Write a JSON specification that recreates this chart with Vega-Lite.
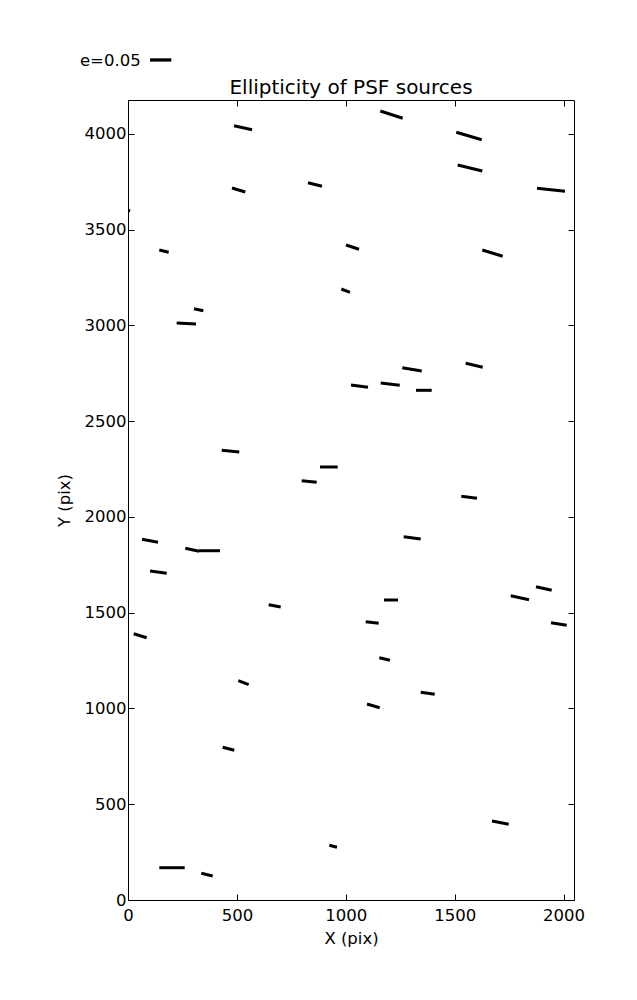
{
  "$schema": "https://vega.github.io/schema/vega-lite/v6.json",
  "width": 446,
  "height": 800,
  "autosize": {"type": "none"},
  "padding": {"left": 128, "top": 100, "right": 63, "bottom": 100},
  "background": "white",
  "config": {
    "view": {"stroke": "black", "strokeWidth": 1},
    "axis": {"grid": false, "domain": false, "tickColor": "black", "tickSize": -6, "tickWidth": 1, "labelFont": "DejaVu Sans", "labelFontSize": 16.5, "labelColor": "black", "titleFont": "DejaVu Sans", "titleFontSize": 16.5, "titleFontWeight": "normal", "titleColor": "black", "labelFlush": false, "labelOverlap": false, "format": "d"}
  },
  "datasets": {
    "whiskers": [
      {"x1": 486.8, "y1": 4041.8, "x2": 569.4, "y2": 4021.0},
      {"x1": 1158.6, "y1": 4118.6, "x2": 1261.4, "y2": 4080.5},
      {"x1": 1507.5, "y1": 4007.4, "x2": 1624.2, "y2": 3968.8},
      {"x1": 1514.0, "y1": 3836.7, "x2": 1627.0, "y2": 3805.4},
      {"x1": 477.6, "y1": 3716.6, "x2": 538.6, "y2": 3695.8},
      {"x1": 826.6, "y1": 3744.3, "x2": 890.8, "y2": 3725.5},
      {"x1": 1878.1, "y1": 3715.1, "x2": 2006.7, "y2": 3699.4},
      {"x1": -20.0, "y1": 3603.0, "x2": 10.0, "y2": 3598.0},
      {"x1": 143.7, "y1": 3393.0, "x2": 186.9, "y2": 3381.0},
      {"x1": 1001.1, "y1": 3419.1, "x2": 1060.8, "y2": 3396.7},
      {"x1": 1627.0, "y1": 3393.0, "x2": 1720.6, "y2": 3360.1},
      {"x1": 979.5, "y1": 3189.4, "x2": 1019.4, "y2": 3172.2},
      {"x1": 303.1, "y1": 3086.6, "x2": 345.8, "y2": 3076.1},
      {"x1": 223.6, "y1": 3011.9, "x2": 312.3, "y2": 3006.7},
      {"x1": 1259.6, "y1": 2778.6, "x2": 1348.7, "y2": 2761.4},
      {"x1": 1550.7, "y1": 2801.6, "x2": 1628.8, "y2": 2780.7},
      {"x1": 1024.0, "y1": 2688.3, "x2": 1102.1, "y2": 2676.3},
      {"x1": 1160.4, "y1": 2698.7, "x2": 1247.6, "y2": 2686.7},
      {"x1": 1322.5, "y1": 2660.6, "x2": 1394.6, "y2": 2660.6},
      {"x1": 430.3, "y1": 2347.4, "x2": 511.1, "y2": 2338.6},
      {"x1": 797.6, "y1": 2188.7, "x2": 866.5, "y2": 2180.4},
      {"x1": 881.7, "y1": 2260.3, "x2": 962.9, "y2": 2260.3},
      {"x1": 1530.5, "y1": 2107.3, "x2": 1602.6, "y2": 2096.9},
      {"x1": 1266.0, "y1": 1896.4, "x2": 1344.1, "y2": 1884.4},
      {"x1": 64.3, "y1": 1882.9, "x2": 137.8, "y2": 1867.2},
      {"x1": 263.1, "y1": 1835.9, "x2": 326.0, "y2": 1820.2},
      {"x1": 326.0, "y1": 1823.3, "x2": 422.5, "y2": 1823.3},
      {"x1": 101.0, "y1": 1717.4, "x2": 177.7, "y2": 1705.4},
      {"x1": 646.1, "y1": 1541.5, "x2": 701.2, "y2": 1529.5},
      {"x1": 1175.6, "y1": 1566.0, "x2": 1239.8, "y2": 1566.0},
      {"x1": 1757.4, "y1": 1588.4, "x2": 1841.4, "y2": 1567.6},
      {"x1": 1873.5, "y1": 1635.4, "x2": 1945.6, "y2": 1616.6},
      {"x1": 26.2, "y1": 1390.1, "x2": 85.9, "y2": 1369.2},
      {"x1": 1091.5, "y1": 1452.7, "x2": 1151.2, "y2": 1444.4},
      {"x1": 1942.4, "y1": 1447.5, "x2": 2014.5, "y2": 1433.9},
      {"x1": 1154.0, "y1": 1264.8, "x2": 1203.1, "y2": 1251.2},
      {"x1": 506.5, "y1": 1144.7, "x2": 554.3, "y2": 1123.9},
      {"x1": 1344.1, "y1": 1084.2, "x2": 1408.4, "y2": 1073.8},
      {"x1": 1097.5, "y1": 1023.1, "x2": 1155.8, "y2": 1003.8},
      {"x1": 434.9, "y1": 797.1, "x2": 488.1, "y2": 781.4},
      {"x1": 1671.5, "y1": 412.4, "x2": 1748.2, "y2": 395.2},
      {"x1": 924.4, "y1": 285.5, "x2": 959.7, "y2": 275.1},
      {"x1": 143.7, "y1": 168.6, "x2": 260.4, "y2": 168.6},
      {"x1": 336.6, "y1": 139.4, "x2": 388.9, "y2": 125.3}
    ],
    "key": [
      {"kx1": 101.0, "kx2": 198.8, "ky": 4385, "tx": 58, "ty": 4356, "label": "e=0.05"}
    ],
    "heading": [
      {"hx": 1024, "hy": 4208, "text": "Ellipticity of PSF sources"}
    ]
  },
  "layer": [
    {
      "data": {"name": "whiskers"},
      "mark": {"type": "rule", "color": "black", "strokeWidth": 3, "strokeCap": "butt", "clip": true},
      "encoding": {
        "x": {"field": "x1", "type": "quantitative", "scale": {"domain": [0, 2048], "nice": false, "zero": false}, "axis": {"orient": "bottom", "title": "X (pix)", "values": [0, 500, 1000, 1500, 2000], "labelPadding": 13, "titlePadding": 7}},
        "x2": {"field": "x2"},
        "y": {"field": "y1", "type": "quantitative", "scale": {"domain": [0, 4176], "nice": false, "zero": false}, "axis": {"orient": "left", "title": "Y (pix)", "values": [0, 500, 1000, 1500, 2000, 2500, 3000, 3500, 4000], "labelPadding": 8, "titlePadding": 12}},
        "y2": {"field": "y2"}
      }
    },
    {
      "data": {"name": "key"},
      "mark": {"type": "rule", "color": "black", "strokeWidth": 3.3, "strokeCap": "butt"},
      "encoding": {
        "x": {"field": "kx1", "type": "quantitative", "axis": {"orient": "top", "title": null, "labels": false, "values": [0, 500, 1000, 1500, 2000]}},
        "x2": {"field": "kx2"},
        "y": {"field": "ky", "type": "quantitative", "axis": {"orient": "right", "title": null, "labels": false, "values": [0, 500, 1000, 1500, 2000, 2500, 3000, 3500, 4000]}}
      }
    },
    {
      "data": {"name": "key"},
      "mark": {"type": "text", "color": "black", "font": "DejaVu Sans", "fontSize": 16.5, "align": "right", "baseline": "alphabetic"},
      "encoding": {
        "x": {"field": "tx", "type": "quantitative", "axis": null},
        "y": {"field": "ty", "type": "quantitative", "axis": null},
        "text": {"field": "label"}
      }
    },
    {
      "data": {"name": "heading"},
      "mark": {"type": "text", "color": "black", "font": "DejaVu Sans", "fontSize": 20, "align": "center", "baseline": "alphabetic"},
      "encoding": {
        "x": {"field": "hx", "type": "quantitative", "axis": null},
        "y": {"field": "hy", "type": "quantitative", "axis": null},
        "text": {"field": "text"}
      }
    }
  ],
  "resolve": {"axis": {"x": "independent", "y": "independent"}}
}
